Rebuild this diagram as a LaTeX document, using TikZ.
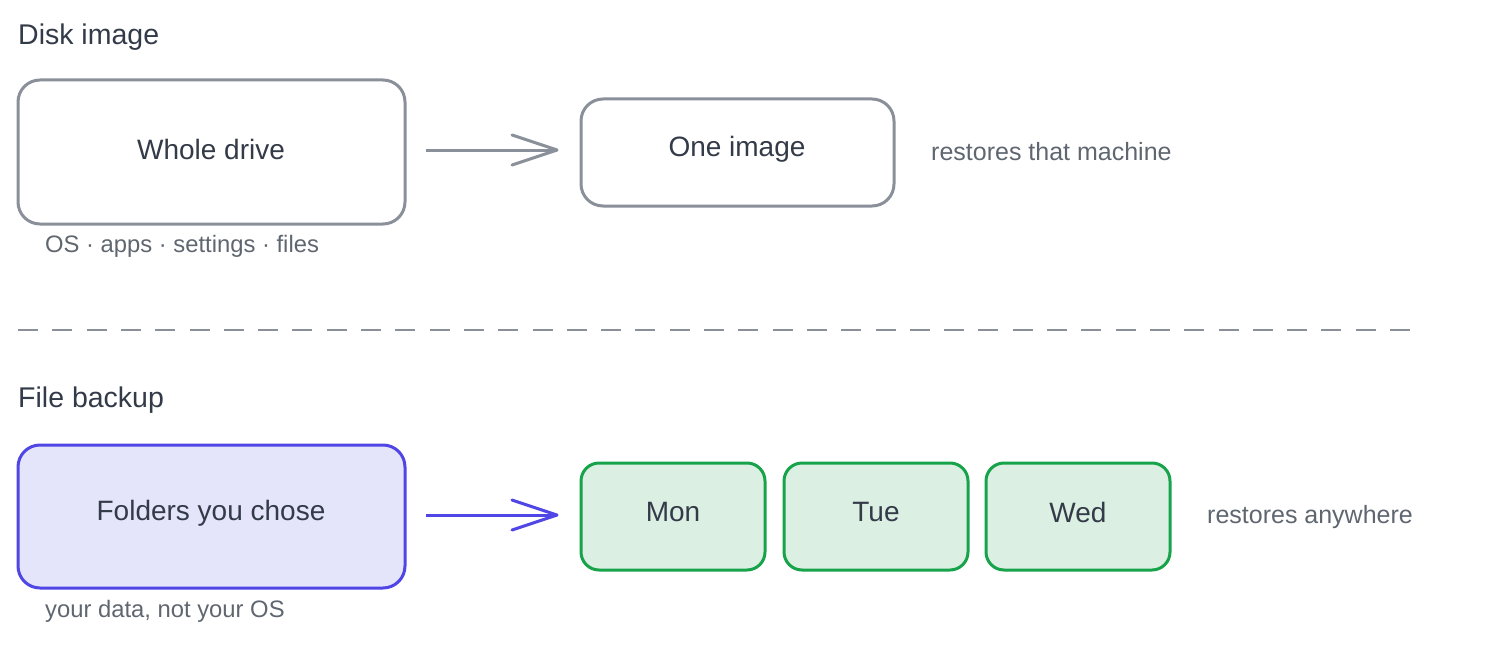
\documentclass[tikz,border=0pt]{standalone}
\usepackage{fontspec}
\setmainfont{Liberation Sans}
\begin{document}
\begin{tikzpicture}[x=1pt,y=-1pt,
  gbox/.style={draw=edge,line width=3pt,rounded corners=22pt,fill=white},
  bbox/.style={draw=blueE,line width=3pt,rounded corners=22pt,fill=blueF},
  grbox/.style={draw=greenE,line width=3pt,rounded corners=18pt,fill=greenF},
  note/.style={text=sub,inner sep=0pt,anchor=west,font=\fontsize{25}{28}\selectfont},
  small/.style={text=sub,inner sep=0pt,anchor=west,font=\fontsize{23.8}{26}\selectfont},
  head/.style={text=ink,inner sep=0pt,anchor=west,font=\fontsize{28.5}{32}\selectfont},
  lab/.style={text=ink,font=\fontsize{28}{32}\selectfont},
  arr/.style={line width=3pt}]
\definecolor{ink}{HTML}{333A48}
\definecolor{sub}{HTML}{5F6670}
\definecolor{edge}{HTML}{8A9099}
\definecolor{blueE}{HTML}{4F46E5}
\definecolor{blueF}{HTML}{E4E4FA}
\definecolor{greenE}{HTML}{16A34A}
\definecolor{greenF}{HTML}{DCEFE3}
\useasboundingbox (0,0) rectangle (1498,650);
\node[head] (h1) at (18,37) {Disk image};
\draw[gbox] (18,80) rectangle (405,224);
\node[lab] (whole) at (211,149) {Whole drive};
\draw[gbox] (581,99) rectangle (894,206);
\node[lab] (one) at (737,149) {One image};
\coordinate (a1s) at (426,150); \coordinate (a1e) at (557,150);
\draw[arr,draw=edge] (a1s) -- (a1e);
\draw[arr,draw=edge,line join=round,line cap=round] (512,135) -- (a1e) -- (512,165);
\node[note] (n1) at (931,152) {restores that machine};
\node[small] (n2) at (45,246) {OS · apps · settings · files};
\coordinate (d1) at (18,330); \coordinate (d2) at (1410,330);
\draw[draw=edge,line width=2.5pt,dash pattern=on 20pt off 14.3pt] (d1) -- (d2);
\node[head] (h2) at (18,400) {File backup};
\draw[bbox] (18,445) rectangle (405,588);
\node[lab] (fold) at (211,513) {Folders you chose};
\coordinate (a2s) at (426,515); \coordinate (a2e) at (557,515);
\draw[arr,draw=blueE] (a2s) -- (a2e);
\draw[arr,draw=blueE,line join=round,line cap=round] (512,500) -- (a2e) -- (512,530);
\draw[grbox] (581,463) rectangle (765,570);
\draw[grbox] (784,463) rectangle (968,570);
\draw[grbox] (986,463) rectangle (1170,570);
\node[lab] (mon) at (673,512) {Mon};
\node[lab] (tue) at (876,512) {Tue};
\node[lab] (wed) at (1078,512) {Wed};
\node[note] (n3) at (1207,517) {restores anywhere};
\node[small] (n4) at (45,611) {your data, not your OS};
\end{tikzpicture}
\end{document}
